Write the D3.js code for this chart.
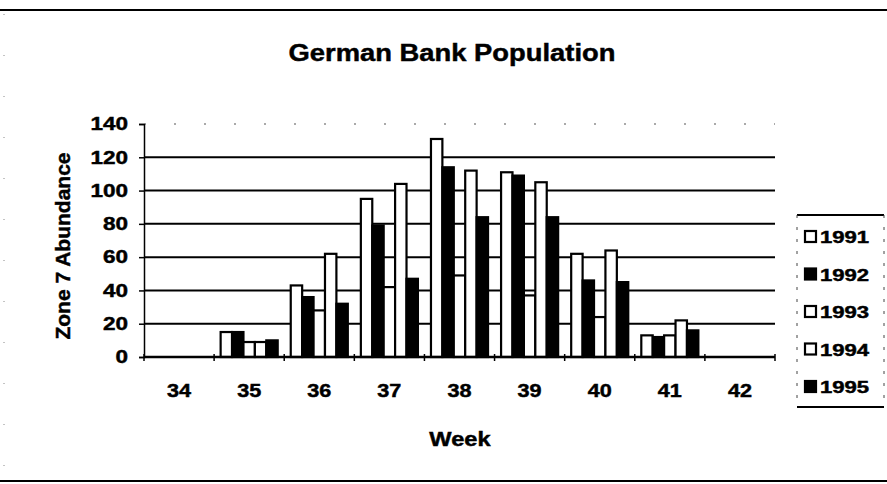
<!DOCTYPE html>
<html>
<head>
<meta charset="utf-8">
<script src="https://cdn.jsdelivr.net/npm/d3@7"></script>
<style>
  body { margin: 0; background: #fff; }
  svg { display: block; font-family: "Liberation Sans", Arial, sans-serif; }
  svg text { stroke: #000; stroke-width: 0.45px; }
</style>
</head>
<body>
<svg width="887" height="484"></svg>
<script>
var weeks = ["34", "35", "36", "37", "38", "39", "40", "41", "42"];
var years = ["1991", "1992", "1993", "1994", "1995"];
var yearFill = ["#fff", "#000", "#fff", "#fff", "#000"];
var v1991 = [0, 15, 43, 95, 131, 111, 62, 13, 0];
var v1992 = [0, 15, 36, 79, 114, 109, 46, 12, 0];
var v1993 = [0, 9, 28, 42, 49, 37, 24, 13, 0];
var v1994 = [0, 9, 62, 104, 112, 105, 64, 22, 0];
var v1995 = [0, 10, 32, 47, 84, 84, 45, 16, 0];
var yTicks = [0, 20, 40, 60, 80, 100, 120, 140];

document.addEventListener("DOMContentLoaded", function () {

  viz();

  // scanned original has wide letters, so stretch text a bit
  function widen(sel, k) {
    sel.each(function () {
      var w = this.getComputedTextLength();
      d3.select(this).attr("textLength", w * k).attr("lengthAdjust", "spacingAndGlyphs");
    });
  }

  function viz() {
    var svg = d3.select("svg");
    var series = [v1991, v1992, v1993, v1994, v1995];

    var xScale = d3.scaleBand().domain(weeks).range([144, 775]).paddingInner(0.186).paddingOuter(0.093);
    var innerScale = d3.scaleBand().domain(years).range([0, xScale.bandwidth()]);
    var yScale = d3.scaleLinear().domain([0, 140]).range([357, 124]);
    var fillScale = d3.scaleOrdinal().domain(years).range(yearFill);
    var step = xScale.step();

    // chart frame
    svg.append("line").attr("x1", 0).attr("x2", 887).attr("y1", 10).attr("y2", 10)
      .attr("stroke", "#000").attr("stroke-width", 2);
    svg.append("line").attr("x1", 0).attr("x2", 887).attr("y1", 481).attr("y2", 481)
      .attr("stroke", "#000").attr("stroke-width", 2);
    svg.append("line").attr("x1", 4).attr("x2", 4).attr("y1", 14).attr("y2", 478)
      .attr("stroke", "#888").attr("stroke-dasharray", "1,40");

    // gridlines
    svg.selectAll("line.grid")
      .data(yTicks.filter(function (t) { return t > 0; }))
      .enter()
      .append("line")
      .attr("class", "grid")
      .attr("x1", 144).attr("x2", 775)
      .attr("y1", function (d) { return yScale(d); })
      .attr("y2", function (d) { return yScale(d); })
      .attr("stroke", function (d) { return d == 140 ? "#555" : "#000"; })
      .attr("stroke-width", function (d) { return d == 140 ? 1 : 2; })
      .attr("stroke-dasharray", function (d) { return d == 140 ? "2,28" : null; });

    // bars
    svg.selectAll("g.bar")
      .data(series)
      .enter()
      .append("g")
      .attr("class", "bar")
      .each(function (s, i) {
        var yr = years[i];
        d3.select(this).selectAll("rect")
          .data(s.map(function (v, j) { return { week: weeks[j], value: v }; })
            .filter(function (p) { return p.value > 0; }))
          .enter()
          .append("rect")
          .attr("x", function (p) { return xScale(p.week) + innerScale(yr); })
          .attr("y", function (p) { return yScale(p.value); })
          .attr("width", innerScale.bandwidth())
          .attr("height", function (p) { return yScale(0) - yScale(p.value); })
          .attr("fill", fillScale(yr))
          .attr("stroke", "#000")
          .attr("stroke-width", 2.2);
      });

    // y axis
    var yAxis = d3.axisLeft(yScale).tickValues(yTicks).tickSize(5).tickPadding(11);
    var yG = svg.append("g").attr("transform", "translate(144,0)").call(yAxis);
    yG.select(".domain").attr("stroke-width", 1.5);
    yG.selectAll("line").attr("stroke-width", 1.5);
    yG.selectAll("text").attr("font-size", 18).attr("font-weight", "bold")
      .attr("font-family", "Liberation Sans, Arial, sans-serif").attr("fill", "#000");
    widen(yG.selectAll("text"), 1.25);

    // x axis
    svg.append("line").attr("x1", 144).attr("x2", 775).attr("y1", 357).attr("y2", 357)
      .attr("stroke", "#000").attr("stroke-width", 2.5);
    svg.selectAll("line.xtick")
      .data(d3.range(weeks.length + 1))
      .enter()
      .append("line")
      .attr("class", "xtick")
      .attr("x1", function (d) { return 144 + d * step; })
      .attr("x2", function (d) { return 144 + d * step; })
      .attr("y1", 354).attr("y2", 361)
      .attr("stroke", "#000").attr("stroke-width", 1.5);
    var xLabels = svg.selectAll("text.xlab")
      .data(weeks)
      .enter()
      .append("text")
      .attr("class", "xlab")
      .attr("x", function (d) { return xScale(d) + xScale.bandwidth() / 2; })
      .attr("y", 397)
      .attr("text-anchor", "middle")
      .attr("font-size", 18).attr("font-weight", "bold")
      .text(function (d) { return d; });
    widen(xLabels, 1.2);

    // titles
    var title = svg.append("text").attr("x", 452).attr("y", 61).attr("text-anchor", "middle")
      .attr("font-size", 24).attr("font-weight", "bold").text("German Bank Population");
    widen(title, 1.14);

    var xTitle = svg.append("text").attr("x", 460).attr("y", 446).attr("text-anchor", "middle")
      .attr("font-size", 20).attr("font-weight", "bold").text("Week");
    widen(xTitle, 1.18);

    var yTitle = svg.append("text").attr("transform", "translate(70,246) rotate(-90)")
      .attr("text-anchor", "middle").attr("font-size", 20).attr("font-weight", "bold")
      .text("Zone 7 Abundance");
    widen(yTitle, 1.05);

    // legend
    var lg = svg.append("g");
    lg.append("line").attr("x1", 797).attr("x2", 884).attr("y1", 215).attr("y2", 215)
      .attr("stroke", "#000").attr("stroke-width", 2);
    lg.append("line").attr("x1", 797).attr("x2", 884).attr("y1", 407).attr("y2", 407)
      .attr("stroke", "#000").attr("stroke-width", 2);
    lg.selectAll("line.side")
      .data([797, 884])
      .enter()
      .append("line")
      .attr("class", "side")
      .attr("x1", function (d) { return d; }).attr("x2", function (d) { return d; })
      .attr("y1", 215).attr("y2", 407)
      .attr("stroke", "#444").attr("stroke-dasharray", "3,9");

    var item = lg.selectAll("g.item")
      .data(years)
      .enter()
      .append("g")
      .attr("class", "item")
      .attr("transform", function (d, i) { return "translate(0," + (236 + i * 37.5) + ")"; });
    item.append("rect")
      .attr("x", 805).attr("y", -5).attr("width", 11).attr("height", 11)
      .attr("fill", function (d) { return fillScale(d); })
      .attr("stroke", "#000").attr("stroke-width", 2.2);
    var itemText = item.append("text")
      .attr("x", 820).attr("y", 7)
      .attr("font-size", 17).attr("font-weight", "bold")
      .text(function (d) { return d; });
    widen(itemText, 1.3);
  }

});
</script>
</body>
</html>
